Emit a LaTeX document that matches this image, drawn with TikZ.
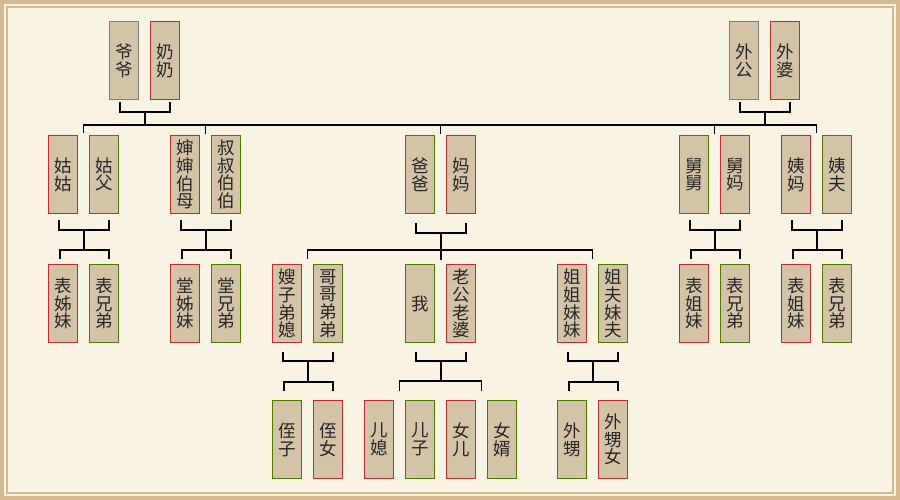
\documentclass[tikz,border=0pt]{standalone}
\usepackage{fontspec}
\newfontfamily\cjk{Noto Sans CJK SC}
\usetikzlibrary{calc}
\definecolor{paper}{HTML}{F8F3E3}
\definecolor{framecol}{HTML}{D3B98F}
\definecolor{boxfill}{HTML}{D3C3A7}
\definecolor{malegreen}{HTML}{4E7A00}
\definecolor{femalered}{HTML}{C8282D}
\definecolor{eldergray}{HTML}{7F7F7F}

\begin{document}
\begin{tikzpicture}[
      x=1pt,y=-1pt,
      person/.style={
        draw,
        fill=boxfill,
        line width=1.2pt,
        minimum width=29pt,
        minimum height=78pt,
        inner sep=0pt,
        align=center,
        text=black!85,
        font=\cjk\fontsize{17.5}{17.8}\selectfont
      },
      male/.style={person,draw=malegreen},
      female/.style={person,draw=femalered},
      elder/.style={person,draw=eldergray},
      link/.style={line width=1.3pt}
    ]
    % paper and frame
    \useasboundingbox (0,0) rectangle (900,500);
    \fill[framecol] (0,0) rectangle (900,500);
    \fill[paper] (4,4) rectangle (896,496);
    \draw[framecol,line width=2pt] (7,7) rectangle (893,493);

    % grandparents
    \node[elder] (yeye) at (124,60.5) {爷\\爷};
    \node[female] (nainai) at (165,60.5) {奶\\奶};
    \node[elder] (waigong) at (744,60.5) {外\\公};
    \node[female] (waipo) at (785,60.5) {外\\婆};

    % parents' generation
    \node[female] (gugu) at (63,174.5) {姑\\姑};
    \node[male] (gufu) at (104,174.5) {姑\\父};
    \node[female] (shenshen) at (185,174.5) {婶\\婶\\伯\\母};
    \node[male] (shushu) at (226,174.5) {叔\\叔\\伯\\伯};
    \node[male] (baba) at (420,174.5) {爸\\爸};
    \node[female] (mama) at (461,174.5) {妈\\妈};
    \node[male] (jiujiu) at (694,174.5) {舅\\舅};
    \node[female] (jiuma) at (735,174.5) {舅\\妈};
    \node[female] (yima) at (796,174.5) {姨\\妈};
    \node[male] (yifu) at (837,174.5) {姨\\夫};

    % my generation
    \node[female] (biaojieA) at (63,303.5) {表\\姊\\妹};
    \node[male] (biaoxiongA) at (104,303.5) {表\\兄\\弟};
    \node[female] (tangjie) at (185,303.5) {堂\\姊\\妹};
    \node[male] (tangxiong) at (226,303.5) {堂\\兄\\弟};
    \node[female] (saozi) at (287,303.5) {嫂\\子\\弟\\媳};
    \node[male] (gege) at (328,303.5) {哥\\哥\\弟\\弟};
    \node[male] (wo) at (420,303.5) {我};
    \node[female] (laogong) at (461,303.5) {老\\公\\老\\婆};
    \node[female] (jiejie) at (572,303.5) {姐\\姐\\妹\\妹};
    \node[male] (jiefu) at (613,303.5) {姐\\夫\\妹\\夫};
    \node[female] (biaojieB) at (694,303.5) {表\\姐\\妹};
    \node[male] (biaoxiongB) at (735,303.5) {表\\兄\\弟};
    \node[female] (biaojieC) at (796,303.5) {表\\姐\\妹};
    \node[male] (biaoxiongC) at (837,303.5) {表\\兄\\弟};

    % children's generation
    \node[male] (zhizi) at (287,439.5) {侄\\子};
    \node[female] (zhinv) at (328,439.5) {侄\\女};
    \node[female] (erxi) at (379,439.5) {儿\\媳};
    \node[male] (erzi) at (420,439.5) {儿\\子};
    \node[female] (nver) at (461,439.5) {女\\儿};
    \node[male] (nvxu) at (502,439.5) {女\\婿};
    \node[male] (waisheng) at (572,439.5) {外\\甥};
    \node[female] (waishengnv) at (613,439.5) {外\\甥\\女};

    % gaps between couples, where the family lines come down
    \foreach \a/\b in {gugu/gufu, shenshen/shushu, baba/mama, jiujiu/jiuma,
        yima/yifu, saozi/gege, wo/laogong, jiejie/jiefu, erxi/erzi, nver/nvxu}
      \coordinate (g\a) at ($(\a.north east)!.5!(\b.north west)$);

    % couple brackets
    \foreach \a/\b/\s/\d in {yeye/nainai/2/10, waigong/waipo/2/10,
        gugu/gufu/6/10, shenshen/shushu/6/10, baba/mama/9/10,
        jiujiu/jiuma/6/10, yima/yifu/6/10,
        saozi/gege/9/9, wo/laogong/9/9, jiejie/jiefu/9/9}
      \draw[link] ([xshift=-4pt,yshift=-\s pt]\a.south) -- ++(0,\d)
        -| coordinate[pos=.25] (j\a) ([xshift=5pt,yshift=-\s pt]\b.south);

    % grandparents to their children
    \draw[link] ([yshift=2pt]ggugu) -- ++(0,-8)
      coordinate (topbar) -| ([yshift=2pt]gyima);
    \foreach \a in {shenshen, baba, jiujiu}
      \draw[link] ([yshift=1pt]g\a) -- (g\a |- topbar);
    \draw[link] (jyeye) -- (jyeye |- topbar);
    \draw[link] (jwaigong) -- (jwaigong |- topbar);

    % parents to me and my siblings
    \draw[link] ([yshift=5pt]gsaozi) -- ++(0,-9)
      -| ([yshift=5pt]gjiejie);
    \draw[link] (jbaba) -- ([yshift=4pt]gwo -| jbaba);

    % cousins, nephews and nieces
    \foreach \p/\a/\b/\s in {gugu/biaojieA/biaoxiongA/5, shenshen/tangjie/tangxiong/5,
        jiujiu/biaojieB/biaoxiongB/5, yima/biaojieC/biaoxiongC/5,
        saozi/zhizi/zhinv/9, jiejie/waisheng/waishengnv/9}
      {
      \draw[link] ([xshift=-3pt,yshift=\s pt]\a.north) -- ++(0,-9)
        -| coordinate[pos=.25] (k\a) ([xshift=5pt,yshift=\s pt]\b.north);
      \draw[link] (j\p) -- (j\p |- k\a);
      }

    % my children
    \draw[link] ([yshift=9pt]gerxi) -- ++(0,-10)
      coordinate (kidbar) -| ([yshift=9pt]gnver);
    \draw[link] (jwo) -- (jwo |- kidbar);
  \end{tikzpicture}
\end{document}
